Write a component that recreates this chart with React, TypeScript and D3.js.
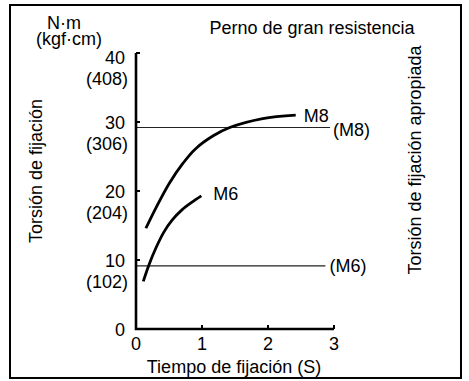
import React from "react";
import * as d3 from "d3";

const yTicks = [0, 10, 20, 30, 40];
const kgfLabels = ["", "(102)", "(204)", "(306)", "(408)"];
const xTicks = [0, 1, 2, 3];

const m8Curve: [number, number][] = [
  [0.15, 14.6], [0.31, 17.7], [0.51, 21.2], [0.71, 24.0], [0.9, 26.1],
  [1.17, 28.0], [1.42, 29.2], [1.92, 30.5], [2.42, 31.0],
];
const m6Curve: [number, number][] = [
  [0.11, 6.9], [0.2, 9.4], [0.3, 11.7], [0.42, 14.0], [0.55, 15.8],
  [0.7, 17.3], [0.85, 18.4], [0.99, 19.3],
];
const refLines = [
  { label: "(M8)", value: 29.2, end: 2.94 },
  { label: "(M6)", value: 9.15, end: 2.87 },
];

const W = 469;
const H = 381;
const FONT = "'Liberation Sans', Arial, sans-serif";
const FS = 18;

export default function App() {
  const x = d3.scaleLinear().domain([0, 3]).range([136, 334]);
  const y = d3.scaleLinear().domain([0, 40]).range([329, 53]);
  const line = d3
    .line<[number, number]>()
    .x((d) => x(d[0]))
    .y((d) => y(d[1]))
    .curve(d3.curveCatmullRom.alpha(0.5));

  return (
    <svg
      width={W}
      height={H}
      style={{ position: "absolute", left: 0, top: 0, background: "#fff" }}
      fontFamily={FONT}
      fontSize={FS}
    >
      <rect x={10} y={5} width={451} height={373} fill="none" stroke="#000" strokeWidth={2} />

      {/* reference lines */}
      {refLines.map((r) => (
        <line
          key={r.label}
          x1={x(0)}
          x2={x(r.end)}
          y1={y(r.value)}
          y2={y(r.value)}
          stroke="#222"
          strokeWidth={1.1}
        />
      ))}
      <text x={x(2.94) + 3} y={y(29.2) + 8}>(M8)</text>
      <text x={x(2.87) + 4} y={y(9.15) + 6.5}>(M6)</text>

      {/* curves */}
      <path d={line(m8Curve) || ""} fill="none" stroke="#000" strokeWidth={2.8} strokeLinecap="butt" />
      <path d={line(m6Curve) || ""} fill="none" stroke="#000" strokeWidth={2.8} strokeLinecap="butt" />
      <text x={x(2.42) + 8} y={y(31.0) + 7}>M8</text>
      <text x={x(0.99) + 12} y={y(19.3) + 4.5}>M6</text>

      {/* axes */}
      <path
        d={`M${x(0)},${y(40)} V${y(0)} H${x(3)}`}
        fill="none"
        stroke="#000"
        strokeWidth={2.6}
      />
      {yTicks.map((t) => (
        <line key={"yt" + t} x1={x(0)} x2={x(0) + 4} y1={y(t)} y2={y(t)} stroke="#000" strokeWidth={2} />
      ))}
      {xTicks.map((t) => (
        <line key={"xt" + t} x1={x(t)} x2={x(t)} y1={y(0)} y2={y(0) - 4} stroke="#000" strokeWidth={2} />
      ))}

      {yTicks.map((t, i) => (
        <g key={"yl" + t}>
          <text x={125} y={y(t) + (t === 40 ? 10.5 : 6.5)} textAnchor="end">
            {t}
          </text>
          {kgfLabels[i] && (
            <text x={128} y={y(t) + (t === 40 ? 31.5 : 27.5)} textAnchor="end">
              {kgfLabels[i]}
            </text>
          )}
        </g>
      ))}
      {xTicks.map((t) => (
        <text key={"xl" + t} x={x(t)} y={350} textAnchor="middle">
          {t}
        </text>
      ))}

      {/* titles */}
      <text x={64} y={29} textAnchor="middle">N·m</text>
      <text x={69} y={45} textAnchor="middle">(kgf·cm)</text>
      <text x={312} y={34} textAnchor="middle">Perno de gran resistencia</text>
      <text x={234} y={373} textAnchor="middle">Tiempo de fijación (S)</text>
      <text transform="translate(42,171) rotate(-90)" textAnchor="middle">
        Torsión de fijación
      </text>
      <text transform="translate(421,160) rotate(-90)" textAnchor="middle">
        Torsión de fijación apropiada
      </text>
    </svg>
  );
}
